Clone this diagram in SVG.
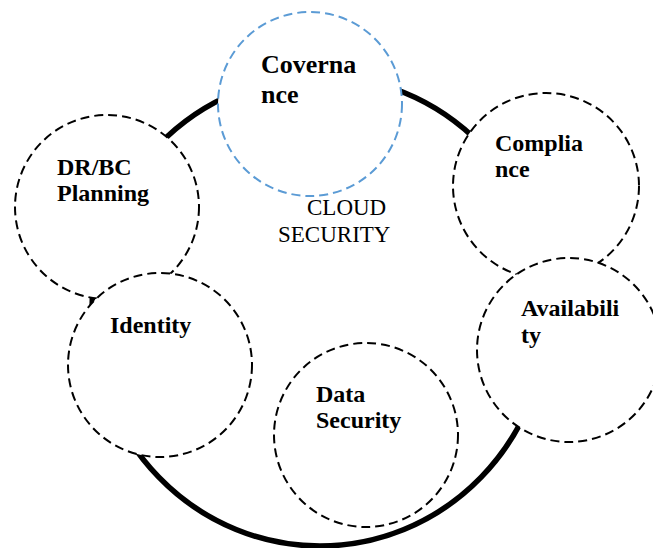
<svg xmlns="http://www.w3.org/2000/svg" width="653" height="548" viewBox="0 0 653 548">
<style>
.node{fill:#fff;stroke:#000;stroke-width:2;stroke-dasharray:9 5}
.blue{stroke:#5B9BD5}
.lbl{font-family:"Liberation Serif","Times New Roman",serif;font-weight:bold;font-size:24px;fill:#000}
.big{fill:none;stroke:#000;stroke-width:5.5}
.title{font-family:"Liberation Serif","Times New Roman",serif;font-size:23px;fill:#000}
</style>
<rect width="653" height="548" fill="#fff"/>
<g id="connectors">
<ellipse class="big" cx="320" cy="311" rx="228" ry="235"/>
</g>
<g id="drbc">
<circle class="node" cx="107" cy="207" r="92"/>
<text class="lbl" x="57" y="175">DR/BC</text>
<text class="lbl" x="57" y="201">Planning</text>
</g>
<g id="identity">
<circle class="node" cx="160" cy="365" r="92"/>
<text class="lbl" x="110" y="333">Identity</text>
</g>
<g id="governance">
<circle class="node blue" cx="310" cy="104" r="92"/>
<text class="lbl" style="font-size:26px" x="261" y="73">Coverna</text>
<text class="lbl" style="font-size:26px" x="261" y="103">nce</text>
</g>
<g id="compliance">
<circle class="node" cx="546" cy="186" r="93"/>
<text class="lbl" x="495" y="151">Complia</text>
<text class="lbl" x="495" y="177">nce</text>
</g>
<g id="availability">
<circle class="node" cx="569" cy="350" r="92"/>
<text class="lbl" x="521" y="316">Availabili</text>
<text class="lbl" x="521" y="343">ty</text>
</g>
<g id="datasecurity">
<circle class="node" cx="366" cy="435" r="92"/>
<text class="lbl" x="316" y="402">Data</text>
<text class="lbl" x="316" y="428">Security</text>
</g>
<g id="cloudsecurity">
<text class="title" x="307" y="215">CLOUD</text>
<text class="title" x="278" y="242">SECURITY</text>
</g>
</svg>
